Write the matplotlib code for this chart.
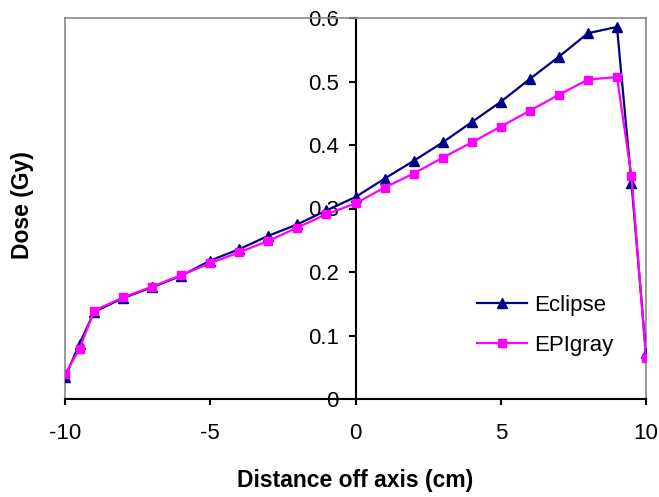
import matplotlib
matplotlib.use("Agg")
import matplotlib.pyplot as plt

x = [-10, -9.5, -9, -8, -7, -6, -5, -4, -3, -2, -1, 0, 1, 2, 3, 4, 5, 6, 7, 8, 9, 9.5, 10]
eclipse = [0.034, 0.087, 0.137, 0.159, 0.176, 0.194, 0.218, 0.236, 0.257, 0.275, 0.297, 0.318,
           0.347, 0.375, 0.404, 0.436, 0.468, 0.504, 0.539, 0.576, 0.586, 0.340, 0.072]
epigray = [0.039, 0.079, 0.139, 0.160, 0.177, 0.195, 0.214, 0.231, 0.249, 0.270, 0.291, 0.308,
           0.333, 0.355, 0.380, 0.404, 0.429, 0.454, 0.479, 0.503, 0.507, 0.351, 0.065]
xticks = [-10, -5, 0, 5, 10]
yticks = [0, 0.1, 0.2, 0.3, 0.4, 0.5, 0.6]
ytick_labels = ["0", "0.1", "0.2", "0.3", "0.4", "0.5", "0.6"]

plt.rcParams['font.family'] = ['Liberation Sans', 'DejaVu Sans']

fig = plt.figure(figsize=(6.59, 4.97), dpi=100)
ax = fig.add_axes([65/659, 1-399/497, (646-65)/659, (399-18)/497])

ax.plot(x, eclipse, color='#000080', marker='^', markersize=7.5, linewidth=1.6, label='Eclipse', zorder=3)
ax.plot(x, epigray, color='#FF00FF', marker='s', markersize=6, linewidth=1.6, label='EPIgray', zorder=4)

ax.set_xlim(-10, 10)
ax.set_ylim(0, 0.6)

# spines
ax.spines['left'].set_position(('data', 0))
ax.spines['left'].set_color('black')
ax.spines['left'].set_linewidth(1.5)
ax.spines['bottom'].set_color('black')
ax.spines['bottom'].set_linewidth(1.5)
ax.spines['top'].set_color('#888888')
ax.spines['right'].set_color('#888888')
ax.spines['top'].set_linewidth(1.2)
ax.spines['right'].set_linewidth(1.2)
ax.plot([0, 0], [0, 1], transform=ax.transAxes, color='#888888', linewidth=1.2, clip_on=False, zorder=1)

ax.set_xticks(xticks)
ax.set_xticklabels([str(t) for t in xticks])
ax.set_yticks(yticks)
ax.set_yticklabels(ytick_labels)
ax.tick_params(axis='x', direction='out', length=4.5, width=1.5, pad=13, labelsize=16)
ax.tick_params(axis='y', direction='out', length=5, width=1.5, pad=7, labelsize=16)

fig.text(355/659, 1-481/497, 'Distance off axis (cm)', ha='center', va='center',
         fontsize=16.5, fontweight='bold')
fig.text(22/659, 1-205/497, 'Dose (Gy)', ha='center', va='center', rotation=90,
         fontsize=16.5, fontweight='bold')

leg = ax.legend(loc='upper left', bbox_to_anchor=(477/659, 1-295/497), bbox_transform=fig.transFigure,
                frameon=False, fontsize=16, handlelength=2.25, labelspacing=0.85, handletextpad=0.32,
                borderaxespad=0, borderpad=0)

fig.savefig('out.png', dpi=100)
